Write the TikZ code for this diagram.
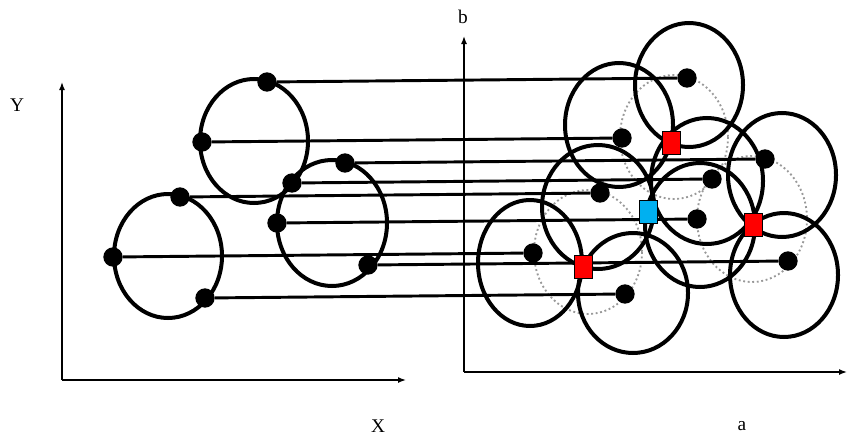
\documentclass[tikz,border=0pt]{standalone}
\usepackage{fontspec}
\setmainfont{Liberation Serif}
\usetikzlibrary{arrows.meta}
\begin{document}
\begin{tikzpicture}[x=0.75pt,y=-0.75pt,
  axis/.style={line width=1.1pt,-{Latex[length=6pt,width=4.5pt]}},
  ring/.style={line width=3pt},
  ghost/.style={line width=1.4pt,gray!80,dotted},
  link/.style={line width=2.2pt},
  dot/.style={circle,fill=black,inner sep=0pt,minimum size=14.5pt},
  peak/.style={rectangle,draw=black,line width=0.6pt,fill=red,inner sep=0pt,minimum width=13.5pt,minimum height=17pt},
  fake/.style={peak,fill={rgb,255:red,0;green,176;blue,240}},
  lab/.style={font=\fontsize{14.5}{16}\selectfont,inner sep=0pt}]
\useasboundingbox (0,0) rectangle (848,439);
% axes
\coordinate (O1) at (62,380);
\coordinate (Y1) at (62,82);
\coordinate (X1) at (406,380);
\coordinate (O2) at (464,372);
\coordinate (Y2) at (464,36);
\coordinate (X2) at (847,372);
\draw[axis] (O1) -- (Y1);
\draw[axis] (O1) -- (X1);
\draw[axis] (O2) -- (Y2);
\draw[axis] (O2) -- (X2);
\node[lab] (ly) at (17,105) {Y};
\node[lab] (lx) at (378,426) {X};
\node[lab] (lb) at (463,17) {b};
\node[lab] (la) at (742,426) {a};
% left circles
\draw[ring] (254,141) ellipse [x radius=54, y radius=62];
\draw[ring] (168,256) ellipse [x radius=54, y radius=62];
\draw[ring] (332,223) ellipse [x radius=55, y radius=63];
% right dotted circles
\draw[ghost] (674,137) ellipse [x radius=54, y radius=62];
\draw[ghost] (588,252) ellipse [x radius=54, y radius=62];
\draw[ghost] (752,219) ellipse [x radius=55, y radius=63];
% right solid circles
\draw[ring] (689,85) ellipse [x radius=54, y radius=62];
\draw[ring] (619,125) ellipse [x radius=54, y radius=62];
\draw[ring] (782,175) ellipse [x radius=54, y radius=62];
\draw[ring] (707,181) ellipse [x radius=56, y radius=63];
\draw[ring] (598,207) ellipse [x radius=56, y radius=62];
\draw[ring] (700,225) ellipse [x radius=55, y radius=62];
\draw[ring] (530,263) ellipse [x radius=52, y radius=63];
\draw[ring] (784,275) ellipse [x radius=54, y radius=62];
\draw[ring] (633,293) ellipse [x radius=55, y radius=60];
% left dots
\node[dot] (l1) at (267,82) {};
\node[dot] (l2) at (202,142) {};
\node[dot] (l3) at (345,163) {};
\node[dot] (l4) at (292,183) {};
\node[dot] (l5) at (180,197) {};
\node[dot] (l6) at (277,223) {};
\node[dot] (l7) at (113,257) {};
\node[dot] (l8) at (368,265) {};
\node[dot] (l9) at (205,298) {};
% right dots
\foreach \i in {1,...,9}{
  \path (l\i) ++(420,-4) node[dot] (r\i) {};
}
% links
\foreach \i in {1,...,9}{
  \draw[link] (l\i) -- (r\i);
}
% accumulator peaks
\node[peak] (p1) at (671,143) {};
\node[peak] (p2) at (583,267) {};
\node[peak] (p3) at (753,225) {};
\node[fake] (p4) at (648,212) {};
\end{tikzpicture}
\end{document}
